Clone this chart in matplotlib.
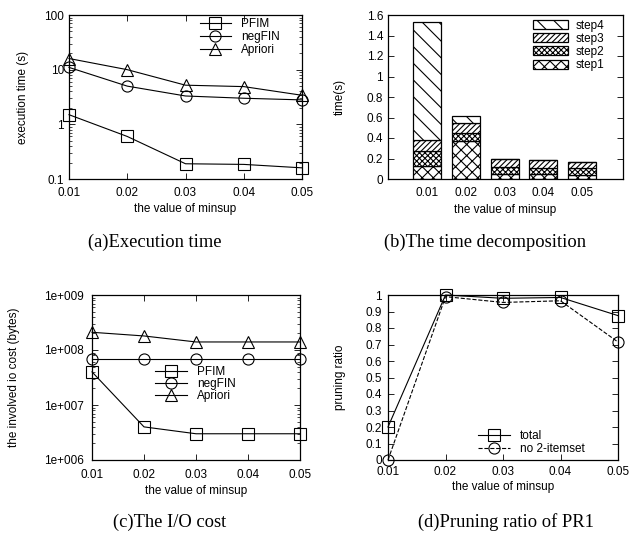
import matplotlib.pyplot as plt
from matplotlib.ticker import LogLocator, NullFormatter

plt.rcParams['font.family'] = ['Liberation Sans', 'DejaVu Sans']
plt.rcParams['hatch.linewidth'] = 0.8

minsup = [0.01, 0.02, 0.03, 0.04, 0.05]
minsup_labels = ['0.01', '0.02', '0.03', '0.04', '0.05']

# (a) execution time (s)
time_pfim = [1.5, 0.6, 0.19, 0.185, 0.16]
time_negfin = [11, 5.0, 3.3, 3.0, 2.8]
time_apriori = [16, 10, 5.2, 4.9, 3.4]

# (b) time decomposition of PFIM
step1 = [0.13, 0.37, 0.05, 0.05, 0.04]
step2 = [0.14, 0.08, 0.07, 0.06, 0.07]
step3 = [0.11, 0.10, 0.08, 0.08, 0.06]
step4 = [1.15, 0.06, 0.00, 0.00, 0.00]

# (c) io cost (bytes)
io_pfim = [4e7, 4e6, 3e6, 3e6, 3e6]
io_negfin = [7e7, 7e7, 7e7, 7e7, 7e7]
io_apriori = [2.1e8, 1.8e8, 1.4e8, 1.4e8, 1.4e8]

# (d) pruning ratio
prune_total = [0.2, 1.0, 0.98, 0.985, 0.875]
prune_no2 = [0.0, 0.99, 0.955, 0.965, 0.715]

W, H = 639, 538
fig = plt.figure(figsize=(W / 100, H / 100), dpi=100)


def box(l, t, r, b):
    return fig.add_axes([l / W, 1 - b / H, (r - l) / W, (b - t) / H])


FS = 8.5
mk = dict(color='black', lw=0.8, markerfacecolor='none', markeredgecolor='black',
          markeredgewidth=0.8, markersize=8, clip_on=False)
leg = dict(frameon=False, fontsize=FS, handlelength=2.7, handletextpad=0.85,
           labelspacing=0.1, borderaxespad=0)


def style(ax, xpad=5.5, ypad=3.5):
    ax.tick_params(which='both', direction='in', top=True, right=True, labelsize=FS)
    ax.tick_params(which='major', length=4, width=0.6)
    ax.tick_params(which='minor', length=2, width=0.5)
    ax.tick_params(axis='x', pad=xpad)
    ax.tick_params(axis='y', pad=ypad)
    for s in ax.spines.values():
        s.set_linewidth(0.9)


# ---- (a)
ax = box(69, 15, 302, 179)
ax.plot(minsup, time_pfim, marker='s', label='PFIM', **mk)
ax.plot(minsup, time_negfin, marker='o', label='negFIN', **mk)
ax.plot(minsup, time_apriori, marker='^', label='Apriori', **mk)
ax.set_yscale('log')
ax.set_ylim(0.1, 100)
ax.set_xlim(0.01, 0.05)
ax.set_xticks(minsup, minsup_labels)
ax.set_yticks([0.1, 1, 10, 100], ['0.1', '1', '10', '100'])
ax.yaxis.set_minor_locator(LogLocator(subs=range(2, 10)))
ax.yaxis.set_minor_formatter(NullFormatter())
ax.set_xlabel('the value of minsup', fontsize=FS, labelpad=3)
ax.set_ylabel('execution time (s)', fontsize=FS, labelpad=11)
style(ax)
ax.legend(loc='upper left', bbox_to_anchor=(0.54, 1.01), **leg)

# ---- (b)
ax = box(388, 15, 623, 179)
pos = [1, 2, 3, 4, 5]
bw = 0.72
kw = dict(width=bw, color='white', edgecolor='black', linewidth=0.9)
b1 = [0] * 5
b2 = [a for a in step1]
b3 = [a + b for a, b in zip(step1, step2)]
b4 = [a + b + c for a, b, c in zip(step1, step2, step3)]
h1 = ax.bar(pos, step1, bottom=b1, hatch='xxx', label='step1', **kw)
h2 = ax.bar(pos, step2, bottom=b2, hatch='xxxxxx', label='step2', **kw)
h3 = ax.bar(pos, step3, bottom=b3, hatch='//////', label='step3', **kw)
h4 = ax.bar(pos, step4, bottom=b4, hatch='\\\\', label='step4', **kw)
ax.set_xlim(0, 6.05)
ax.set_ylim(0, 1.6)
ax.set_xticks(pos, minsup_labels)
ax.set_yticks([0, 0.2, 0.4, 0.6, 0.8, 1, 1.2, 1.4, 1.6],
              ['0', '0.2', '0.4', '0.6', '0.8', '1', '1.2', '1.4', '1.6'])
ax.set_xlabel('the value of minsup', fontsize=FS, labelpad=3)
ax.set_ylabel('time(s)', fontsize=FS, labelpad=15)
style(ax)
ax.tick_params(axis='x', length=0, pad=6)
ax.legend([h4, h3, h2, h1], ['step4', 'step3', 'step2', 'step1'], loc='upper left',
          bbox_to_anchor=(0.597, 1.0), frameon=False, fontsize=FS, handlelength=3.0,
          handleheight=0.8, handletextpad=0.6, labelspacing=0.1, borderaxespad=0)

# ---- (c)
ax = box(92, 295, 300, 460)
ax.plot(minsup, io_pfim, marker='s', label='PFIM', **mk)
ax.plot(minsup, io_negfin, marker='o', label='negFIN', **mk)
ax.plot(minsup, io_apriori, marker='^', label='Apriori', **mk)
ax.set_yscale('log')
ax.set_ylim(1e6, 1e9)
ax.set_xlim(0.01, 0.05)
ax.set_xticks(minsup, minsup_labels)
ax.set_yticks([1e6, 1e7, 1e8, 1e9], ['1e+006', '1e+007', '1e+008', '1e+009'])
ax.yaxis.set_minor_locator(LogLocator(subs=range(2, 10)))
ax.yaxis.set_minor_formatter(NullFormatter())
ax.set_xlabel('the value of minsup', fontsize=FS, labelpad=3)
ax.set_ylabel('the involved io cost (bytes)', fontsize=FS, labelpad=17)
style(ax, xpad=6.5, ypad=6)
leg_c = dict(leg)
leg_c['labelspacing'] = 0.0
ax.legend(loc='center left', bbox_to_anchor=(0.28, 0.46), **leg_c)

# ---- (d)
ax = box(388, 295, 618, 460)
ax.plot(minsup, prune_total, marker='s', label='total', **mk)
ax.plot(minsup, prune_no2, marker='o', ls='--', label='no 2-itemset', **mk)
ax.set_xlim(0.01, 0.05)
ax.set_ylim(0, 1)
ax.set_xticks(minsup, minsup_labels)
ax.set_yticks([i / 10 for i in range(11)],
              ['0', '0.1', '0.2', '0.3', '0.4', '0.5', '0.6', '0.7', '0.8', '0.9', '1'])
ax.set_xlabel('the value of minsup', fontsize=FS, labelpad=2)
ax.set_ylabel('pruning ratio', fontsize=FS, labelpad=14)
style(ax, xpad=4.5, ypad=4.5)
ax.legend(loc='lower left', bbox_to_anchor=(0.37, 0.0), **leg)

# captions
cap = dict(fontsize=13.3, family=['Liberation Serif', 'DejaVu Serif'], ha='center', va='center')
fig.text(155 / W, 1 - 242 / H, '(a)Execution time', **cap)
fig.text(485 / W, 1 - 242 / H, '(b)The time decomposition', **cap)
fig.text(170 / W, 1 - 522 / H, '(c)The I/O cost', **cap)
fig.text(506 / W, 1 - 522 / H, '(d)Pruning ratio of PR1', **cap)

fig.savefig('out.png', dpi=100)
